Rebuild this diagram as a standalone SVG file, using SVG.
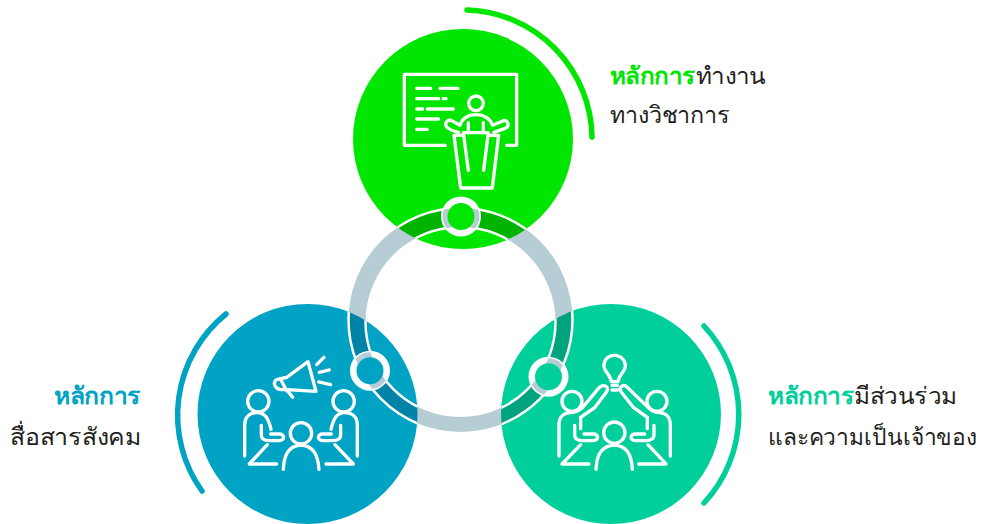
<svg xmlns="http://www.w3.org/2000/svg" width="981" height="524" viewBox="0 0 981 524">
<style>
.ic{fill:none;stroke:#fff;stroke-width:10;stroke-linecap:round;stroke-linejoin:round}
.arc{fill:none;stroke-width:5.5;stroke-linecap:round}
.edge{fill:none;stroke:#fff;stroke-width:2.500}
.lab{font-family:"Noto Sans","Noto Sans CJK SC",sans-serif;font-size:23.500px;fill:#231f20;font-weight:500}
.b{font-weight:700}
</style>
<defs>
<path id="bandp" fill-rule="evenodd" clip-rule="evenodd" d="M348.500 320a112 112 0 1 0 224 0a112 112 0 1 0-224 0zM365.500 322a95 95 0 1 1 190 0a95 95 0 1 1-190 0z"/>
<clipPath id="cg"><circle cx="463" cy="139" r="110"/></clipPath>
<clipPath id="cb"><circle cx="307.500" cy="414" r="110"/></clipPath>
<clipPath id="ct"><circle cx="611" cy="414" r="110"/></clipPath>
<clipPath id="band"><use href="#bandp"/></clipPath>
<g id="edges"><circle class="edge" cx="460.500" cy="320" r="112"/><circle class="edge" cx="460.500" cy="322" r="95"/></g>
</defs>
<g id="node-green">
<circle cx="463" cy="139" r="110" fill="#00e600"/>
<path class="arc" stroke="#00e600" d="M467 10A129 129 0 0 1 592 137"/>
<g class="ic" transform="translate(340 0) scale(.3333)">
<path d="M316 436H193V223H530V436H500"/>
<path d="M230 265H272M300 265H354M230 296H296M310 296H318M230 327H248M262 327H340M230 357H296M230 388H262"/>
<circle cx="408" cy="310" r="22"/>
<path d="M360 376C368 352 385 344 408 344C431 344 448 352 458 376L490 362C505 358 510 380 495 385L462 397M360 376L335 362C325 358 314 366 318 378C322 385 338 393 356 397M385 368V398M430 368V398"/>
<path d="M370 406H342L362 564H457L476 406H445M370 398H445L431 511M370 398L385 511"/>
</g>
</g>
<g id="node-blue">
<circle cx="307.500" cy="414" r="110" fill="#00a3c4"/>
<path class="arc" stroke="#00a3c4" d="M226 314A130 130 0 0 0 202 491"/>
<g class="ic" transform="translate(170 300) scale(.3333)">
<path d="M414 185L438 274L340 268C320 272 308 255 316 242C320 236 340 235 350 232ZM332 238L350 272M352 272L368 292"/>
<path d="M440 194L462 172M448 217L478 210M446 246L482 254"/>
<circle cx="265" cy="304" r="32"/>
<circle cx="521" cy="304" r="32"/>
<circle cx="393" cy="400" r="32"/>
<path d="M224 468V375C224 350 240 338 262 338C285 338 295 355 303 388M274 376V405C274 418 285 422 298 422H328C345 422 345 402 328 402H302"/>
<path d="M562 468V375C562 350 546 338 524 338C501 338 491 355 483 388M512 376V405C512 418 501 422 488 422H458C441 422 441 402 458 402H484"/>
<path d="M340 508C342 460 360 436 393 436C426 436 444 460 447 508"/>
<path d="M292 434L238 492H320M495 434L550 492H468"/>
</g>
</g>
<g id="node-teal">
<circle cx="611" cy="414" r="110" fill="#00cf9c"/>
<path class="arc" stroke="#00cf9c" d="M704 326A130 130 0 0 1 704 503"/>
<g class="ic" transform="translate(490 300) scale(.3333)">
<path d="M373 166C350 166 340 186 342 200C345 218 362 225 364 245H384C386 225 403 218 406 200C408 186 396 166 373 166ZM366 256H382M366 270H382"/>
<circle cx="246" cy="304" r="30"/>
<circle cx="501" cy="304" r="30"/>
<circle cx="373" cy="398" r="32"/>
<path d="M207 468V375C207 350 222 338 240 338C258 338 268 332 278 322L325 266C338 250 360 258 350 275L315 322L272 352V386M254 376V405C254 418 265 422 278 422H310C327 422 327 402 310 402H282"/>
<path d="M541 468V375C541 350 526 338 508 338C490 338 480 330 470 318L412 262C400 250 385 262 393 275L430 322L472 352V386M492 376V405C492 418 481 422 468 422H436C419 422 419 402 436 402H464"/>
<path d="M318 508C320 460 340 436 373 436C406 436 425 460 427 508"/>
<path d="M272 434L216 492H297M474 434L528 492H446"/>
</g>
</g>
<g id="connectors">
<use href="#bandp" fill="#b7cdd6"/>
<g clip-path="url(#cg)"><use href="#bandp" fill="#00b300"/><use href="#edges"/></g>
<g clip-path="url(#cb)"><use href="#bandp" fill="#0083a6"/><use href="#edges"/></g>
<g clip-path="url(#ct)"><use href="#bandp" fill="#00a37e"/><use href="#edges"/></g>
<g id="dot-green"><circle cx="461" cy="216.500" r="20" fill="#fff"/><g clip-path="url(#band)"><circle cx="461" cy="216.500" r="18.500" fill="#b7cdd6"/></g><circle cx="461" cy="216.500" r="13.500" fill="#00e600"/></g>
<g id="dot-blue"><circle cx="370" cy="370.700" r="20" fill="#fff"/><g clip-path="url(#band)"><circle cx="370" cy="370.700" r="18.500" fill="#b7cdd6"/></g><circle cx="370" cy="370.700" r="13.500" fill="#00a3c4"/></g>
<g id="dot-teal"><circle cx="548.500" cy="376.700" r="20" fill="#fff"/><g clip-path="url(#band)"><circle cx="548.500" cy="376.700" r="18.500" fill="#b7cdd6"/></g><circle cx="548.500" cy="376.700" r="13.500" fill="#00cf9c"/></g>
</g>
<g id="label-green"><text class="lab" x="610" y="84" textLength="156" lengthAdjust="spacingAndGlyphs"><tspan class="b" style="fill:#00e600">หลักการ</tspan>ทำงาน</text><text class="lab" x="610" y="123" textLength="120" lengthAdjust="spacingAndGlyphs">ทางวิชาการ</text></g>
<g id="label-blue"><text class="lab b" x="54" y="404" textLength="87" lengthAdjust="spacingAndGlyphs" style="fill:#00a3c4">หลักการ</text><text class="lab" x="10" y="445" textLength="131" lengthAdjust="spacingAndGlyphs">สื่อสารสังคม</text></g>
<g id="label-teal"><text class="lab" x="768" y="404" textLength="189" lengthAdjust="spacingAndGlyphs"><tspan class="b" style="fill:#00cf9c">หลักการ</tspan>มีส่วนร่วม</text><text class="lab" x="768" y="445" textLength="209" lengthAdjust="spacingAndGlyphs" style="font-size:23px">และความเป็นเจ้าของ</text></g>
</svg>
